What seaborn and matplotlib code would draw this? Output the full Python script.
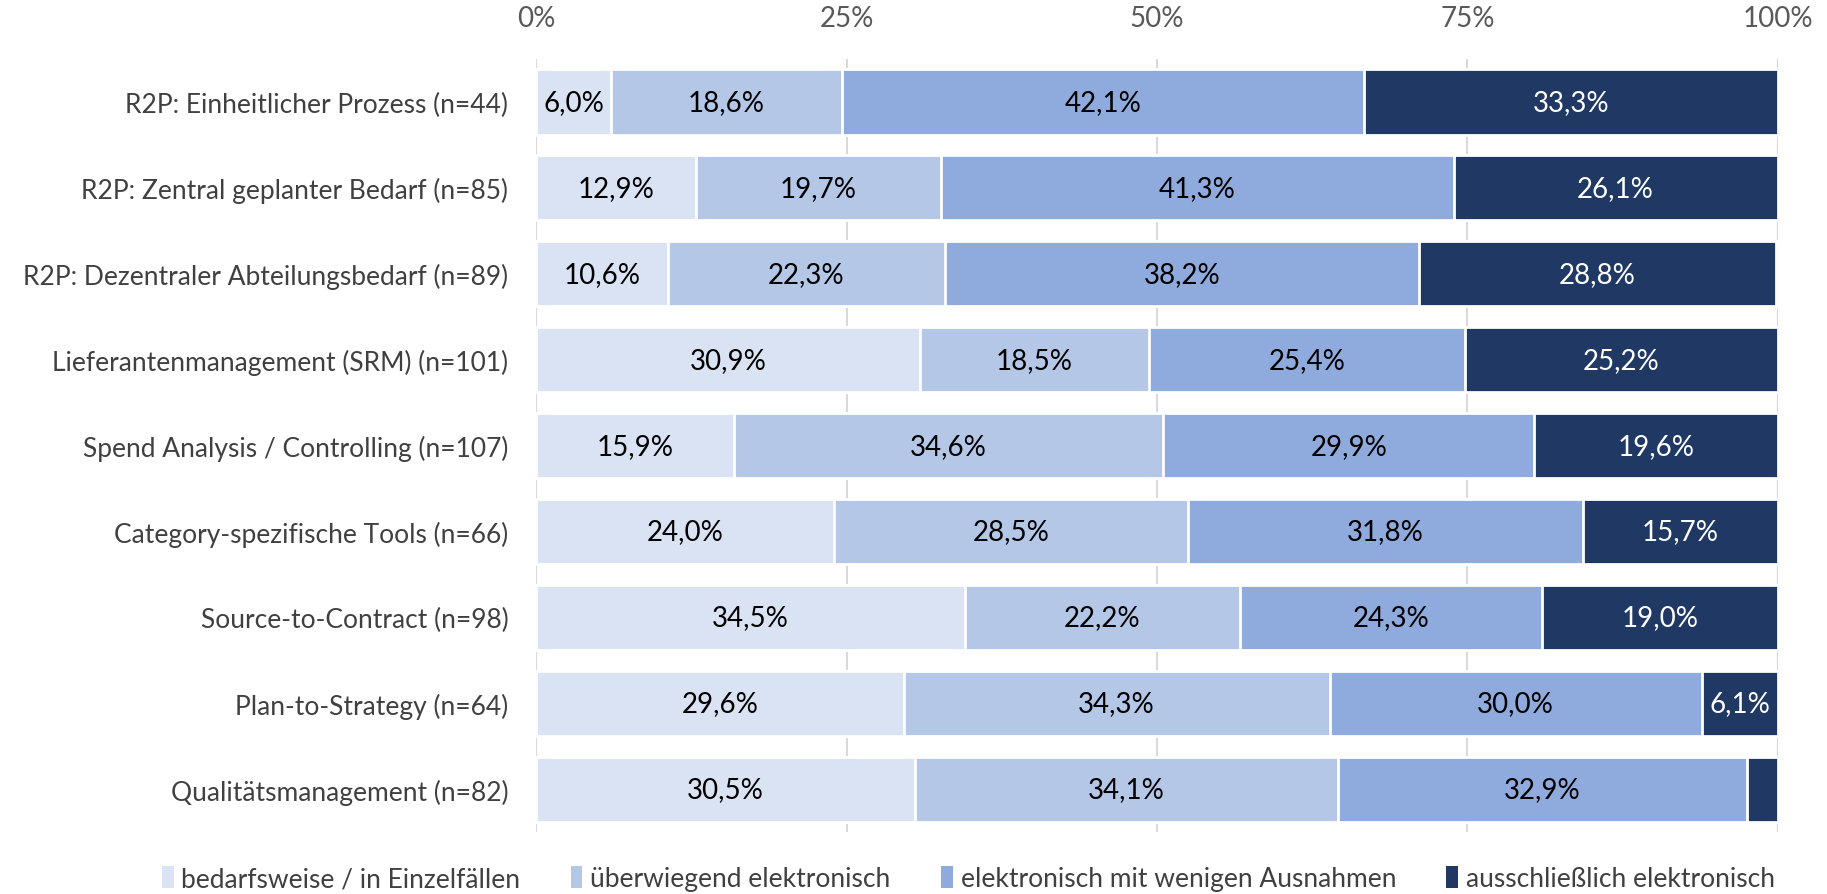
import matplotlib
matplotlib.use("Agg")
import matplotlib.pyplot as plt
import seaborn as sns
import numpy as np
import pandas as pd
from matplotlib.patches import Patch

categories = [
    "R2P: Einheitlicher Prozess (n=44)",
    "R2P: Zentral geplanter Bedarf (n=85)",
    "R2P: Dezentraler Abteilungsbedarf (n=89)",
    "Lieferantenmanagement (SRM) (n=101)",
    "Spend Analysis / Controlling (n=107)",
    "Category-spezifische Tools (n=66)",
    "Source-to-Contract (n=98)",
    "Plan-to-Strategy (n=64)",
    "Qualitätsmanagement (n=82)",
]
series_names = [
    "bedarfsweise / in Einzelfällen",
    "überwiegend elektronisch",
    "elektronisch mit wenigen Ausnahmen",
    "ausschließlich elektronisch",
]
bedarfsweise = [6.0, 12.9, 10.6, 30.9, 15.9, 24.0, 34.5, 29.6, 30.5]
ueberwiegend = [18.6, 19.7, 22.3, 18.5, 34.6, 28.5, 22.2, 34.3, 34.1]
wenige_ausnahmen = [42.1, 41.3, 38.2, 25.4, 29.9, 31.8, 24.3, 30.0, 32.9]
ausschliesslich = [33.3, 26.1, 28.8, 25.2, 19.6, 15.7, 19.0, 6.1, 2.5]
tick_values = [0, 25, 50, 75, 100]
tick_labels = ["0%", "25%", "50%", "75%", "100%"]

colors = ["#DAE3F3", "#B4C7E7", "#8FAADC", "#203864"]
text_colors = ["black", "black", "black", "white"]

sns.set_theme(style="white")
plt.rcParams["font.family"] = ["Lato", "DejaVu Sans"]

series = [bedarfsweise, ueberwiegend, wenige_ausnahmen, ausschliesslich]
vals = np.array(series)
cums = np.cumsum(vals, axis=0)
lefts = cums - vals

fig = plt.figure(figsize=(18.27, 8.95), dpi=100)
ax = fig.add_axes([0.2935, 0.069, 0.6795, 0.864])

FS = 20
FS_CAT = 19

for i in reversed(range(4)):
    df = pd.DataFrame({"cat": categories, "val": cums[i]})
    sns.barplot(data=df, x="val", y="cat", orient="h", color=colors[i],
                width=0.76, edgecolor="white", linewidth=2.0, ax=ax,
                saturation=1, zorder=3)

for i in range(4):
    for j, cat in enumerate(categories):
        v = vals[i][j]
        if v >= 5:
            ax.text(lefts[i][j] + v / 2, j, f"{v:.1f}%".replace(".", ","),
                    ha="center", va="center", fontsize=FS,
                    color=text_colors[i], zorder=5)

ax.set_xlim(0, 100)
ax.set_ylim(len(categories) - 0.5, -0.5)
ax.xaxis.tick_top()
ax.set_xticks(tick_values)
ax.set_xticklabels(tick_labels, fontsize=FS, color="#595959")
ax.tick_params(axis="x", length=0, pad=20)
ax.tick_params(axis="y", length=0, pad=20, labelsize=FS_CAT, labelcolor="#404040")
ax.set_xlabel("")
ax.set_ylabel("")
ax.grid(axis="x", color="#D9D9D9", linewidth=1.5, zorder=0)
ax.set_axisbelow(True)
for s in ax.spines.values():
    s.set_visible(False)

handles = [Patch(facecolor=c, edgecolor="none") for c in colors]
fig.legend(handles, series_names, loc="center", bbox_to_anchor=(0.53, 0.017),
           ncol=4, frameon=False, fontsize=FS_CAT, labelcolor="#404040",
           handlelength=0.45, handleheight=0.9, handletextpad=0.3,
           columnspacing=1.9)

fig.savefig("out.png", dpi=100)
